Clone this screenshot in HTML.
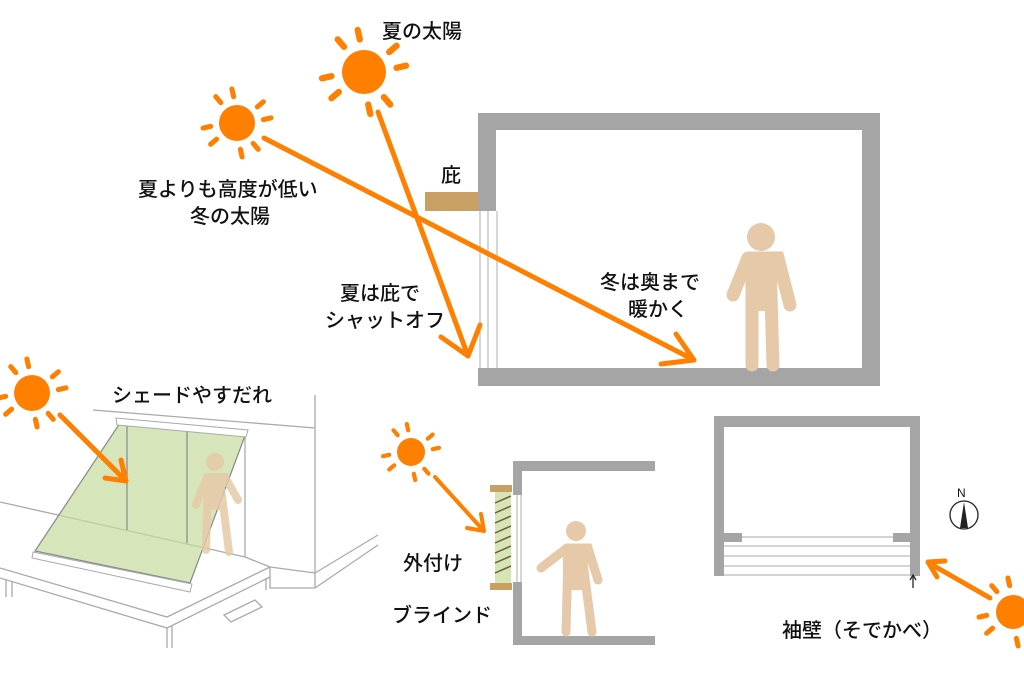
<!DOCTYPE html>
<html><head><meta charset="utf-8"><style>
body{margin:0;background:#fff}
svg{display:block}
text{font-family:"Liberation Sans","Noto Sans CJK JP",sans-serif;font-size:20px;fill:#111;font-weight:500}
</style></head><body>
<svg width="1024" height="682" viewBox="0 0 1024 682" xmlns="http://www.w3.org/2000/svg">
<defs>
<g id="rays" stroke="#ff7f00" stroke-width="6" stroke-linecap="round">
<line x1="-4" y1="-31" x2="-6" y2="-40"/><line x1="4" y1="31" x2="6" y2="40"/>
<line x1="-31" y1="4" x2="-40" y2="6"/><line x1="31" y1="-4" x2="40" y2="-6"/>
<line x1="24" y1="-19" x2="31" y2="-25"/><line x1="-24" y1="19" x2="-31" y2="25"/>
<line x1="-19" y1="-24" x2="-25" y2="-31"/><line x1="19" y1="24" x2="25" y2="31"/>
</g>
</defs>
<g fill="#a5a5a5">
<rect x="478" y="113" width="402" height="17"/>
<rect x="478" y="113" width="18" height="98"/>
<rect x="478" y="368" width="402" height="18"/>
<rect x="862" y="113" width="18" height="273"/>
</g>
<g stroke="#bbb" stroke-width="1.2">
<line x1="480" y1="211" x2="480" y2="368"/><line x1="488" y1="211" x2="488" y2="368"/><line x1="497" y1="211" x2="497" y2="368"/>
</g>
<rect x="425" y="192" width="53" height="19" fill="#c8a064"/>
<text x="441" y="182">庇</text>
<circle cx="364" cy="72" r="22" fill="#ff7f00"/>
<g transform="translate(364,72) scale(1.05)"><use href="#rays"/></g>
<circle cx="237" cy="123" r="18" fill="#ff7f00"/>
<g transform="translate(237,123) scale(0.85)"><use href="#rays"/></g>
<text x="382" y="38">夏の太陽</text>
<text x="138" y="196">夏よりも高度が低い</text>
<text x="190" y="223">冬の太陽</text>
<g stroke="#ff7f00" stroke-width="5" fill="none" stroke-linecap="round" stroke-linejoin="round">
<line x1="264" y1="138" x2="694" y2="360"/>
<polyline points="661,364 694,360 676,334"/>
<line x1="378" y1="112" x2="468" y2="356"/>
<polyline points="441,337 468,356 480,325"/>
</g>
<text x="340" y="300">夏は庇で</text>
<text x="325" y="327">シャットオフ</text>
<text x="600" y="289">冬は奥まで</text>
<text x="628" y="316">暖かく</text>
<g fill="#e6c9a8" stroke="#e6c9a8" stroke-linecap="round">
<circle cx="761" cy="237" r="14" stroke="none"/>
<path d="M748 258 L778 258 L790 305 M748 258 L733 295 M752 258 L752 365 M770 258 L773 365" stroke-width="13" fill="none"/>
<rect x="748" y="256" width="28" height="55" stroke="none"/>
</g>
<!-- left scene -->
<g stroke="#aaa" stroke-width="1.3" fill="none">
<line x1="93" y1="410" x2="315" y2="428"/>
<line x1="315" y1="395" x2="315" y2="588"/>
<line x1="0" y1="502" x2="245" y2="557"/>
<line x1="245" y1="432" x2="245" y2="557"/>
<polyline points="245,557 270,567 315,573"/>
<polyline points="270,567 270,588 315,588"/>
<line x1="315" y1="588" x2="378" y2="545"/>
<line x1="315" y1="573" x2="378" y2="535"/>
<polyline points="0,568 167,617 270,567"/>
<polyline points="0,578 167,628 270,577"/>
<line x1="167" y1="628" x2="167" y2="648"/><line x1="172" y1="626" x2="172" y2="648"/>
<line x1="6" y1="580" x2="6" y2="597"/><line x1="12" y1="582" x2="12" y2="597"/>
<line x1="266" y1="578" x2="266" y2="590"/>
<polygon points="224,615 255,600 262,607 231,622"/>
</g>
<polygon points="120,423 246,433 190,583 35,551" fill="#c5da9c" fill-opacity="0.7" stroke="#888" stroke-width="1.2"/>
<g stroke="#888" stroke-width="1.2"><line x1="127" y1="424" x2="127" y2="530"/><line x1="187" y1="430" x2="187" y2="543"/></g>
<polygon points="116,418 248,430 246,437 117,425" fill="#fff" stroke="#aaa"/>
<polygon points="33,552 192,584 190,592 32,558" fill="#fff" stroke="#aaa"/>
<g fill="#e6c9a8" stroke="#e6c9a8" stroke-linecap="round" opacity="0.85">
<circle cx="215" cy="462" r="9" stroke="none"/>
<path d="M207 477 L225 477 L238 500 M207 477 L196 505 M208 480 L206 550 M220 480 L229 552" stroke-width="8" fill="none"/>
<rect x="204" y="474" width="20" height="36" stroke="none"/>
</g>
<circle cx="32" cy="393" r="18" fill="#ff7f00"/>
<g transform="translate(32,393) scale(0.85)"><use href="#rays"/></g>
<text x="112" y="402">シェードやすだれ</text>
<g stroke="#ff7f00" stroke-width="5" fill="none" stroke-linecap="round" stroke-linejoin="round">
<line x1="60" y1="415" x2="125" y2="480"/><polyline points="105,478 126,481 121,460"/>
</g>
<!-- bottom middle -->
<g fill="#a5a5a5">
<rect x="513" y="461" width="142" height="10"/>
<rect x="513" y="461" width="9" height="34"/>
<rect x="513" y="582" width="9" height="63"/>
<rect x="513" y="636" width="142" height="9"/>
</g>
<g stroke="#bbb" stroke-width="1.2"><line x1="517" y1="495" x2="517" y2="582"/><line x1="521" y1="495" x2="521" y2="582"/></g>
<rect x="495" y="492" width="16" height="91" fill="#d6e5b4"/>
<g stroke="#6e5a40" stroke-width="1.5">
<line x1="495" y1="503" x2="511" y2="496"/><line x1="495" y1="513" x2="511" y2="506"/><line x1="495" y1="523" x2="511" y2="516"/><line x1="495" y1="533" x2="511" y2="526"/><line x1="495" y1="543" x2="511" y2="536"/><line x1="495" y1="553" x2="511" y2="546"/><line x1="495" y1="563" x2="511" y2="556"/><line x1="495" y1="573" x2="511" y2="566"/>
</g>
<rect x="490" y="485" width="22" height="7" fill="#c8a064"/>
<rect x="490" y="583" width="22" height="7" fill="#c8a064"/>
<circle cx="411" cy="452" r="14" fill="#ff7f00"/>
<g transform="translate(411,452) scale(0.7)"><use href="#rays"/></g>
<g stroke="#ff7f00" stroke-width="4" fill="none" stroke-linecap="round" stroke-linejoin="round">
<line x1="435" y1="477" x2="483" y2="530"/><polyline points="467,528 484,531 481,514"/>
</g>
<g fill="#e6c9a8" stroke="#e6c9a8" stroke-linecap="round">
<circle cx="576" cy="531" r="10" stroke="none"/>
<path d="M567 548 L588 548 L598 580 M567 548 L541 568 M568 555 L566 632 M582 555 L592 632" stroke-width="9" fill="none"/>
<rect x="563" y="545" width="25" height="45" stroke="none"/>
</g>
<text x="403" y="570">外付け</text>
<text x="392" y="622">ブラインド</text>
<!-- right room -->
<g fill="#a5a5a5">
<rect x="714" y="416" width="206" height="11"/>
<rect x="714" y="416" width="10" height="160"/>
<rect x="910" y="416" width="10" height="160"/>
<rect x="724" y="533" width="18" height="9"/>
<rect x="893" y="533" width="17" height="9"/>
</g>
<g stroke="#bbb" stroke-width="1.2">
<line x1="742" y1="537" x2="893" y2="537"/><line x1="724" y1="546" x2="910" y2="546"/><line x1="724" y1="556" x2="910" y2="556"/><line x1="724" y1="566" x2="910" y2="566"/><line x1="724" y1="575" x2="910" y2="575"/>
</g>
<g stroke="#222" stroke-width="1.3" fill="none"><line x1="913" y1="575" x2="913" y2="588"/><polyline points="910,580 913,575 916,580"/></g>
<text x="782" y="637">袖壁（そでかべ）</text>
<circle cx="964" cy="515" r="14" fill="none" stroke="#222" stroke-width="1.3"/>
<polygon points="964,502 968,528 960,528" fill="#222"/>
<text x="957" y="497" style="font-size:12px">N</text>
<circle cx="1013" cy="612" r="17" fill="#ff7f00"/>
<g transform="translate(1013,612) scale(0.85)"><use href="#rays"/></g>
<g stroke="#ff7f00" stroke-width="5" fill="none" stroke-linecap="round" stroke-linejoin="round">
<line x1="990" y1="598" x2="929" y2="563"/><polyline points="945,561 928,562 937,577"/>
</g>
</svg>
</body></html>
